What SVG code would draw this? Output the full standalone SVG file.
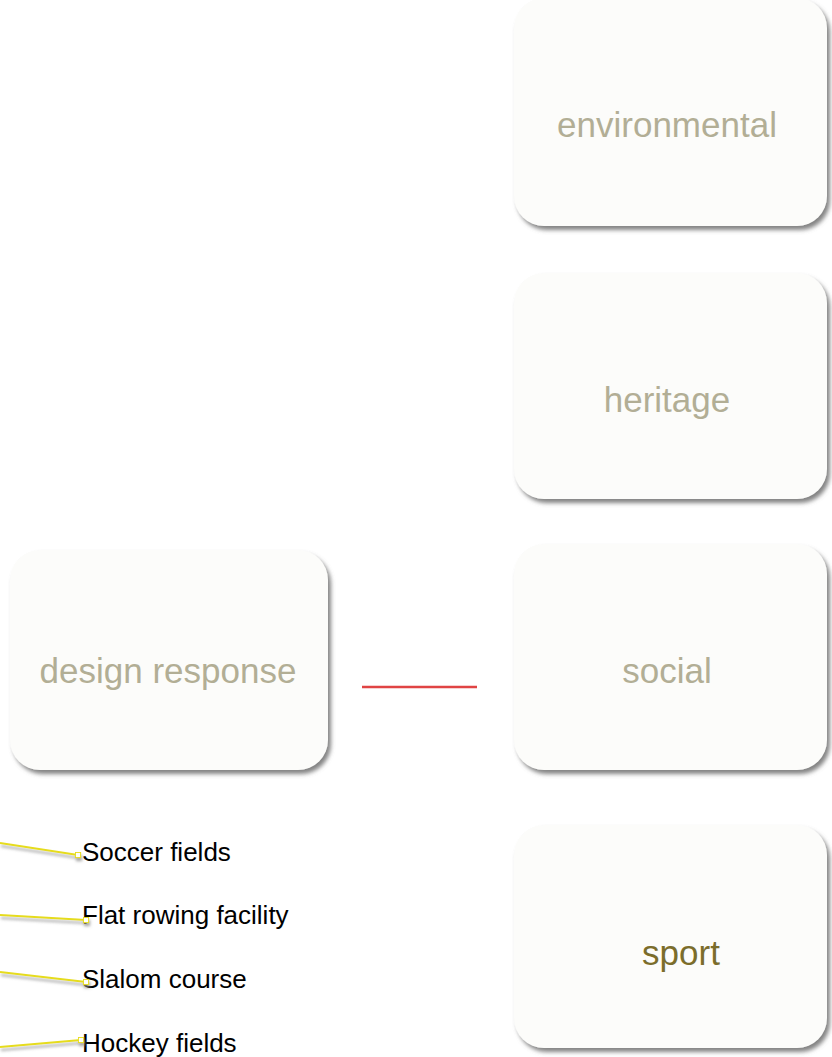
<svg xmlns="http://www.w3.org/2000/svg" width="832" height="1057" viewBox="0 0 832 1057">
<defs>
<filter id="sh" x="-10%" y="-10%" width="125%" height="125%">
<feDropShadow dx="3" dy="4" stdDeviation="2" flood-color="#6e6e6e" flood-opacity="0.85"/>
</filter>
<filter id="lsh" x="-10%" y="-100%" width="120%" height="400%">
<feDropShadow dx="1" dy="3" stdDeviation="1.5" flood-color="#808080" flood-opacity="0.7"/>
</filter>
<marker id="sq" viewBox="0 0 8 8" refX="4" refY="4" markerWidth="7" markerHeight="7" markerUnits="userSpaceOnUse">
<rect x="1" y="1" width="6" height="6" fill="#ffffff" stroke="#e6dc1e" stroke-width="1.2"/>
</marker>
<style>
.box{fill:#fcfcfa;filter:url(#sh)}
.t{font-family:"Liberation Sans",Arial,sans-serif;font-size:35px;fill:#b2ae95;text-anchor:middle}
.ts{fill:#7b6d2b}
.lbl{font-family:"Liberation Sans",Arial,sans-serif;font-size:26px;fill:#000000}
.ln{fill:none;stroke:#e6dc1e;stroke-width:2;filter:url(#lsh);marker-end:url(#sq)}
</style>
</defs>
<rect width="832" height="1057" fill="#ffffff"/>
<g id="environmental"><rect class="box" x="514" y="-2" width="313" height="228" rx="30"/><text class="t" x="667" y="137">environmental</text></g>
<g id="heritage"><rect class="box" x="514" y="273" width="313" height="226" rx="30"/><text class="t" x="667" y="412">heritage</text></g>
<g id="social"><rect class="box" x="514" y="544" width="313" height="226" rx="30"/><text class="t" x="667" y="683">social</text></g>
<g id="sport"><rect class="box" x="514" y="825" width="313" height="223" rx="30"/><text class="t ts" x="681" y="965">sport</text></g>
<g id="design-response"><rect class="box" x="10" y="550" width="318" height="220" rx="30"/><text class="t" x="168" y="683">design response</text></g>
<g id="labels">
<text class="lbl" x="82" y="861">Soccer fields</text>
<text class="lbl" x="82" y="924">Flat rowing facility</text>
<text class="lbl" x="82" y="988">Slalom course</text>
<text class="lbl" x="82" y="1052">Hockey fields</text>
</g>
<g id="connectors">
<line x1="362" y1="687" x2="477" y2="687" stroke="#e04444" stroke-width="2.5"/>
<path class="ln" d="M0,843 L78,855"/>
<path class="ln" d="M0,915 L86,920"/>
<path class="ln" d="M0,972 L86,982"/>
<path class="ln" d="M0,1047 L81,1040"/>
</g>
</svg>
